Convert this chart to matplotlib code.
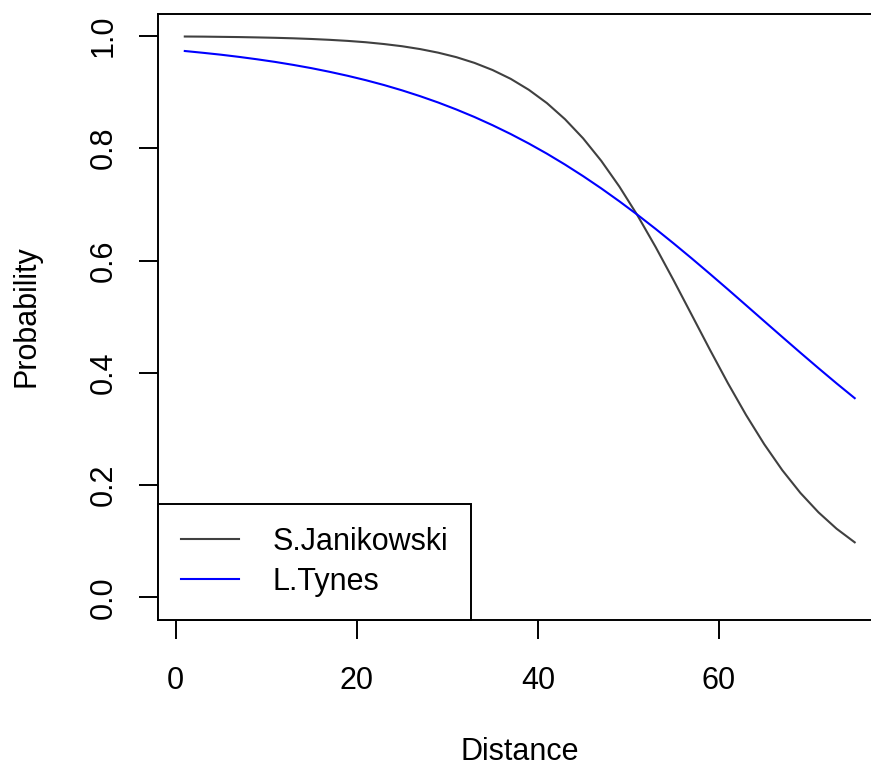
import matplotlib
matplotlib.use("Agg")
import matplotlib.pyplot as plt

# values at distance 1, 3, ..., 75
distance = [1, 3, 5, 7, 9, 11, 13, 15, 17, 19, 21, 23, 25, 27, 29, 31, 33, 35, 37,
            39, 41, 43, 45, 47, 49, 51, 53, 55, 57, 59, 61, 63, 65, 67, 69, 71, 73, 75]
prob_janikowski = [0.9990, 0.9988, 0.9984, 0.9980, 0.9974, 0.9967, 0.9958, 0.9946,
                   0.9931, 0.9912, 0.9888, 0.9856, 0.9817, 0.9766, 0.9702, 0.9622,
                   0.9520, 0.9393, 0.9236, 0.9041, 0.8804, 0.8517, 0.8176, 0.7776,
                   0.7318, 0.6805, 0.6243, 0.5646, 0.5030, 0.4413, 0.3813, 0.3248,
                   0.2729, 0.2265, 0.1860, 0.1514, 0.1222, 0.0980]
prob_tynes = [0.9732, 0.9700, 0.9666, 0.9627, 0.9584, 0.9537, 0.9484, 0.9426,
              0.9361, 0.9290, 0.9212, 0.9126, 0.9031, 0.8927, 0.8814, 0.8690,
              0.8556, 0.8410, 0.8253, 0.8084, 0.7903, 0.7709, 0.7503, 0.7285,
              0.7055, 0.6815, 0.6564, 0.6304, 0.6037, 0.5763, 0.5485, 0.5203,
              0.4920, 0.4638, 0.4358, 0.4082, 0.3811, 0.3548]
series_names = ["S.Janikowski", "L.Tynes"]
x_ticks = [0, 20, 40, 60]
y_ticks = [0.0, 0.2, 0.4, 0.6, 0.8, 1.0]

plt.rcParams['font.family'] = ['Liberation Sans', 'DejaVu Sans']
fs = 22

fig = plt.figure(figsize=(8.71, 7.67), dpi=100)
ax = fig.add_axes([158 / 871, (767 - 619.8) / 767, (881.5 - 158) / 871, (619.8 - 13.5) / 767])

ax.plot(distance, prob_janikowski, color='#404040', lw=1.5, label=series_names[0])
ax.plot(distance, prob_tynes, color='blue', lw=1.5, label=series_names[1])

# R style 4% padding around the data range
xr = max(distance) - min(distance)
ax.set_xlim(min(distance) - 0.04 * xr, max(distance) + 0.04 * xr)
ax.set_ylim(-0.04, 1.04)

ax.set_xticks(x_ticks)
ax.set_xticklabels([str(t) for t in x_ticks])
ax.set_yticks(y_ticks)
ax.set_yticklabels(["{:.1f}".format(t) for t in y_ticks], rotation=90, va='center')
ax.tick_params(axis='both', direction='out', length=14, width=1.4, labelsize=fs, colors='black')
ax.tick_params(axis='x', pad=19)
ax.tick_params(axis='y', pad=14)
for sp in ax.spines.values():
    sp.set_linewidth(1.4)
    sp.set_color('black')

fig.text(519.7 / 871, 1 - 752 / 767, "Distance", fontsize=fs, ha='center', va='center')
fig.text(27 / 871, 1 - 316 / 767, "Probability", fontsize=fs, ha='center', va='center', rotation=90)

leg = ax.legend(loc='lower left', bbox_to_anchor=(0, 0, (471 - 158) / 723.5, 1), mode='expand',
                borderaxespad=0, fancybox=False, framealpha=1, edgecolor='black',
                fontsize=fs, handlelength=1.9, handletextpad=1.1, borderpad=0.75,
                labelspacing=0.33)
leg.get_frame().set_linewidth(1.4)

fig.savefig("out.png", dpi=100)
